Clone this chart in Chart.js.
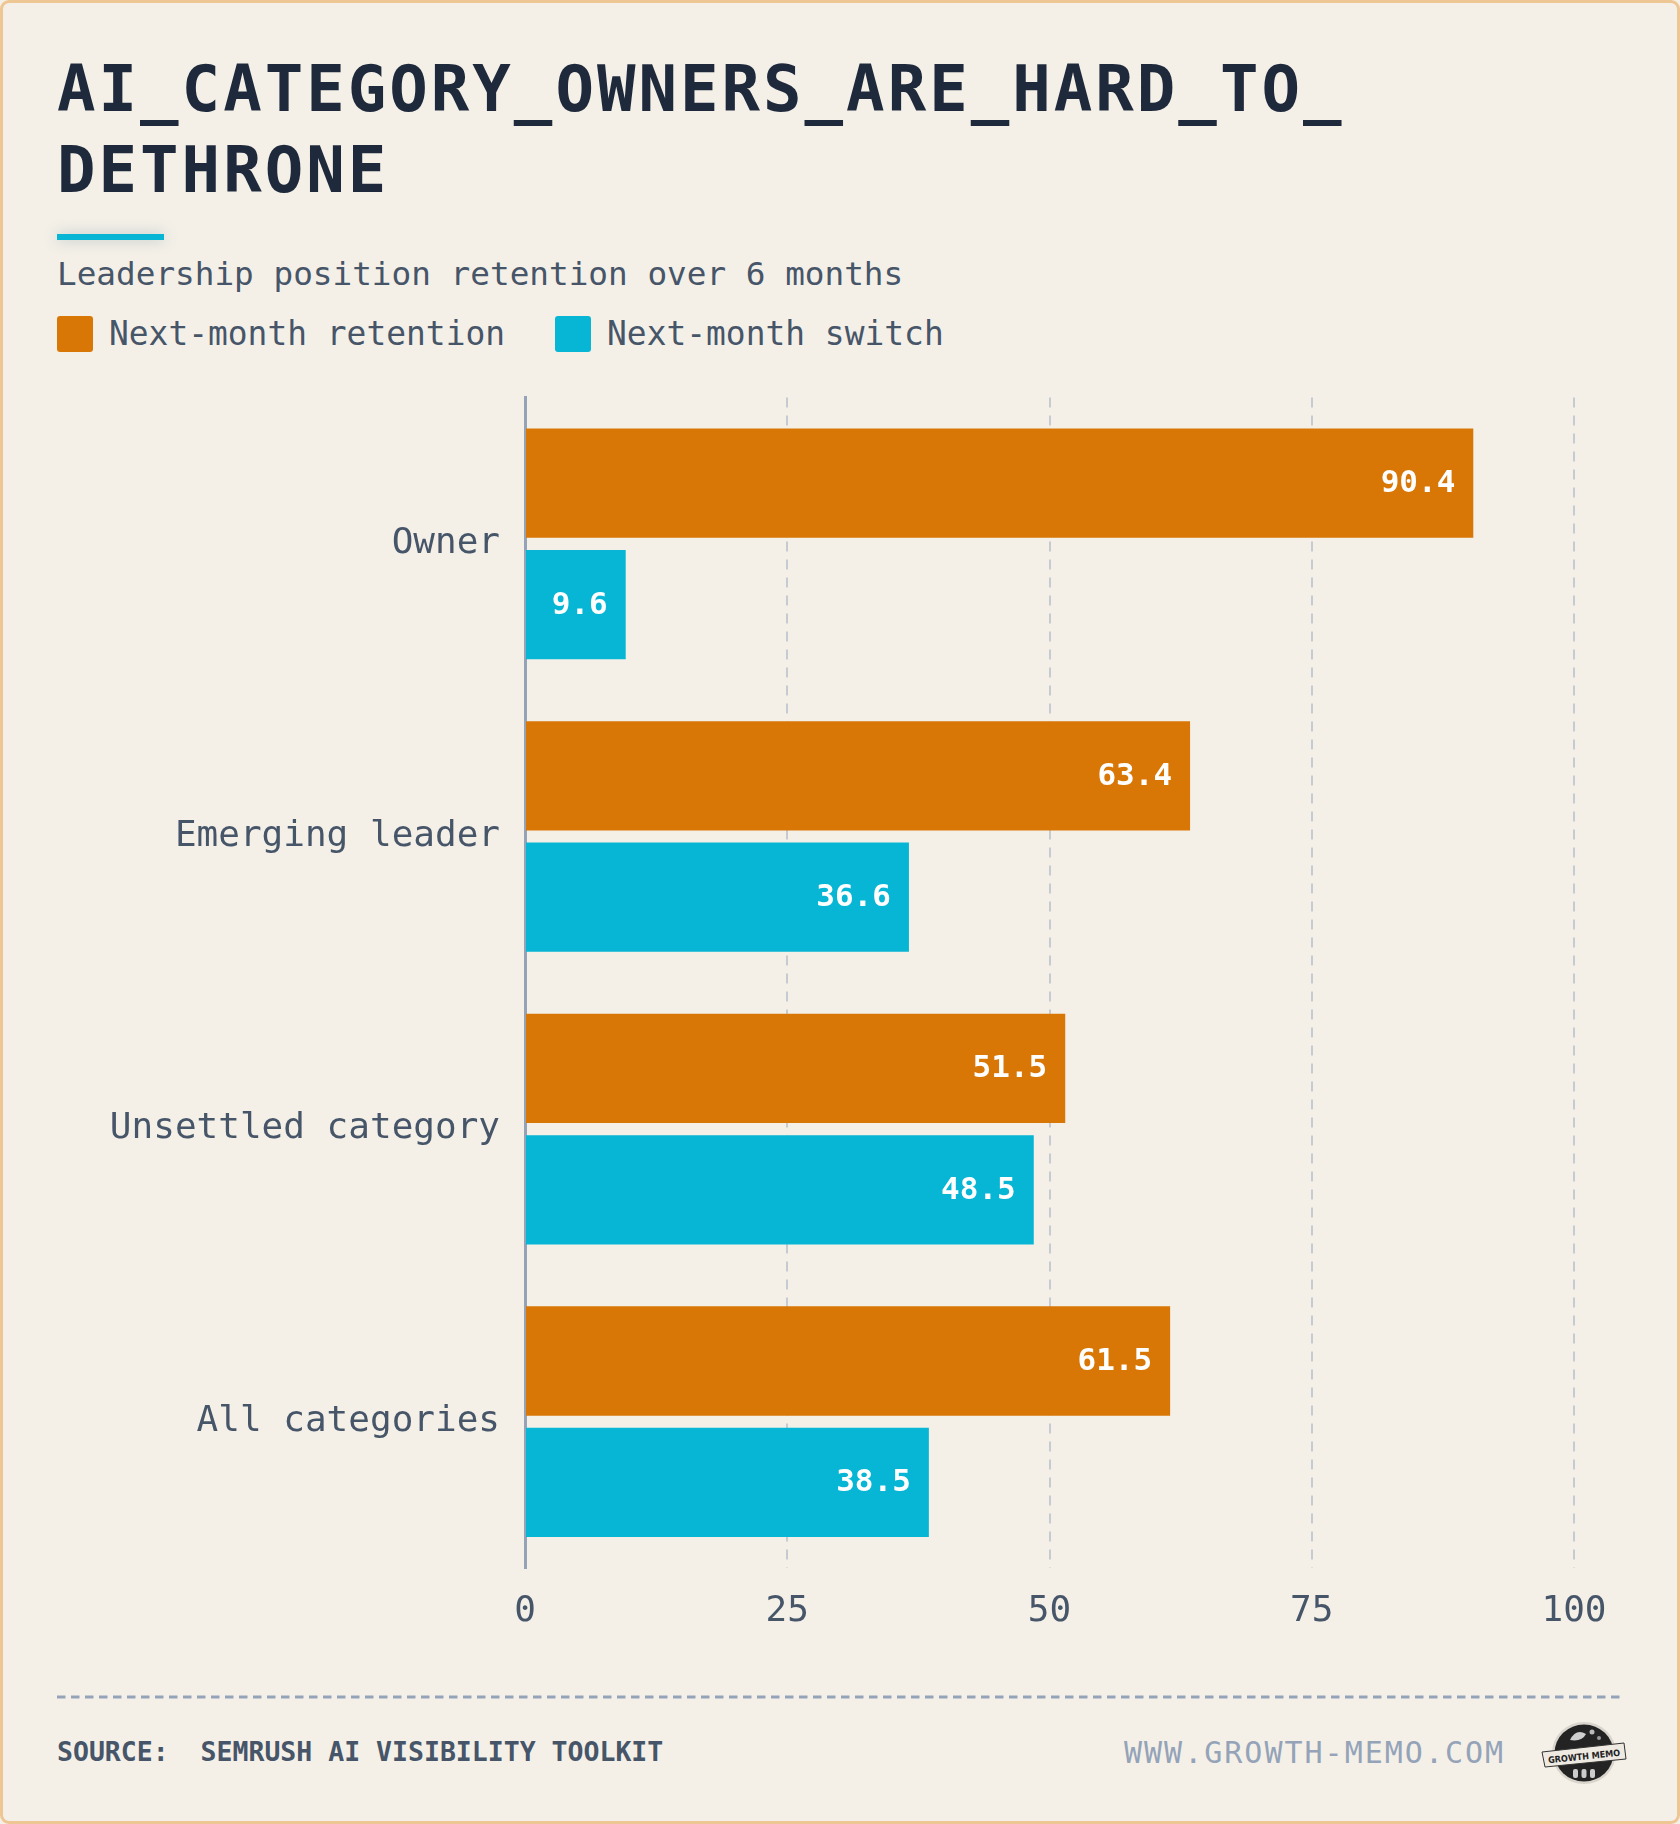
<!DOCTYPE html>
<html lang="en">
  <head>
    <meta charset="UTF-8" />
    <title>AI category owners are hard to dethrone</title>
    <style>
      html, body { margin: 0; padding: 0; }
      body {
        position: relative;
        width: 1680px;
        height: 1824px;
        background: #f4f0e8;
        font-family: "DejaVu Sans Mono", monospace;
        overflow: hidden;
      }
      .frame {
        position: absolute; left: 0; top: 0;
        width: 1680px; height: 1824px;
        box-sizing: border-box;
        border: 3px solid #eec693;
        border-radius: 9px;
        pointer-events: none;
      }
      .title {
        position: absolute; left: 57px; top: 49px;
        font-size: 64px; line-height: 81px; font-weight: bold;
        letter-spacing: 3px; color: #1e293b; margin: 0;
      }
      .accent {
        position: absolute; left: 57px; top: 234px;
        width: 107px; height: 6px; background: #06b6d4;
        box-shadow: 0 0 14px rgba(60, 110, 120, 0.35);
      }
      .subtitle {
        position: absolute; left: 57px; top: 254px;
        font-size: 32.7px; line-height: 40px; color: #475569;
      }
      .legend {
        position: absolute; left: 57px; top: 314px;
        display: flex; align-items: center;
        font-size: 32.9px; line-height: 40px; color: #475569;
      }
      .legend .item { display: flex; align-items: center; margin-right: 50px; }
      .legend .sw { width: 36px; height: 36px; border-radius: 3px; margin-right: 16px; }
      #wrap {
        position: absolute; left: 0; top: 351px;
        width: 1680px; height: 1309px;
      }
      .rule { position: absolute; left: 57px; top: 1694px; }
      .source {
        position: absolute; left: 57px; top: 1738px;
        font-size: 26.5px; line-height: 28px; font-weight: bold; color: #475569;
        white-space: pre;
      }
      .url {
        position: absolute; left: 1124px; top: 1737px;
        font-size: 30px; line-height: 32px; letter-spacing: 2px; color: #94a3b8;
      }
      .logo { position: absolute; left: 1536px; top: 1716px; }
    </style>
  </head>
  <body>
    <div class="frame"></div>
    <div class="title">AI_CATEGORY_OWNERS_ARE_HARD_TO_<br />DETHRONE</div>
    <div class="accent"></div>
    <div class="subtitle">Leadership position retention over 6 months</div>
    <div class="legend" id="legend"></div>

    <div id="wrap"><canvas id="myChart"></canvas></div>

    <svg class="rule" width="1570" height="6">
      <line x1="0" y1="3" x2="1566" y2="3" stroke="#94a3b8" stroke-width="3" stroke-dasharray="8.5 5.5" />
    </svg>
    <div class="source">SOURCE:  SEMRUSH AI VISIBILITY TOOLKIT</div>
    <div class="url">WWW.GROWTH-MEMO.COM</div>
    <svg class="logo" width="92" height="74" viewBox="0 0 92 74">
      <ellipse cx="48" cy="37" rx="32" ry="31" fill="#d9d4cc" />
      <ellipse cx="48" cy="37" rx="29.5" ry="28.5" fill="#232323" />
      <path d="M34 24 q6 -12 16 -6 q-4 8 -16 6 z" fill="#cfcfcf" />
      <circle cx="56" cy="16" r="2.5" fill="#bbb" />
      <circle cx="63" cy="22" r="2" fill="#999" />
      <path d="M6 36 L88 27 L90 43 L9 51 Z" fill="#eeeae2" stroke="#333" stroke-width="1" />
      <text x="48" y="43.5" font-family="DejaVu Sans Condensed, DejaVu Sans" font-size="9" font-weight="bold" text-anchor="middle" fill="#222" transform="rotate(-6 48 39)">GROWTH MEMO</text>
      <rect x="37" y="53" width="5" height="9" rx="2" fill="#ccc" />
      <rect x="45.5" y="53" width="5" height="9" rx="2" fill="#ccc" />
      <rect x="54" y="53" width="5" height="9" rx="2" fill="#ccc" />
    </svg>

    <script src="https://cdn.jsdelivr.net/npm/chart.js@4.4.1/dist/chart.umd.min.js"></script>
    <script>
      const categories = ["Owner", "Emerging leader", "Unsettled category", "All categories"];
      const seriesNames = ["Next-month retention", "Next-month switch"];
      const retention = [90.4, 63.4, 51.5, 61.5];
      const switched = [9.6, 36.6, 48.5, 38.5];
      const xTicks = [0, 25, 50, 75, 100];

      const orange = "#d97706";
      const cyan = "#06b6d4";
      const fontName = "'DejaVu Sans Mono', monospace";

      // html legend, built from the series names
      const legendEl = document.getElementById("legend");
      [orange, cyan].forEach((col, i) => {
        const item = document.createElement("div");
        item.className = "item";
        item.innerHTML = `<span class="sw" style="background:${col}"></span><span>${seriesNames[i]}</span>`;
        legendEl.appendChild(item);
      });

      // white value labels at the end of each bar
      const valueLabels = {
        id: "valueLabels",
        afterDatasetsDraw(chart) {
          const ctx = chart.ctx;
          ctx.save();
          ctx.font = "bold 31px " + fontName;
          ctx.fillStyle = "#ffffff";
          ctx.textAlign = "right";
          ctx.textBaseline = "middle";
          chart.data.datasets.forEach((ds, i) => {
            chart.getDatasetMeta(i).data.forEach((bar, j) => {
              ctx.fillText(ds.data[j].toFixed(1), bar.x - 18, bar.y + 1);
            });
          });
          ctx.restore();
        }
      };

      const ctx = document.getElementById("myChart").getContext("2d");
      const chart = new Chart(ctx, {
        type: "bar",
        data: {
          labels: categories,
          datasets: [
            { label: seriesNames[0], data: retention, backgroundColor: orange },
            { label: seriesNames[1], data: switched, backgroundColor: cyan }
          ]
        },
        options: {
          indexAxis: "y",
          responsive: true,
          maintainAspectRatio: false,
          animation: false,
          categoryPercentage: 0.83,
          barPercentage: 0.9,
          layout: { padding: { top: 8, right: 106, bottom: 0, left: 0 } },
          plugins: { legend: { display: false }, tooltip: { enabled: false } },
          scales: {
            x: {
              min: 0,
              max: 100,
              afterBuildTicks: scale => {
                scale.ticks = xTicks.map(v => ({ value: v }));
              },
              afterFit: scale => {
                scale.height = 92;
              },
              ticks: {
                color: "#475569",
                font: { family: fontName, size: 36 },
                padding: 22
              },
              grid: {
                drawTicks: false,
                lineWidth: 2,
                color: c => (c.tick && c.tick.value === 0 ? "rgba(0,0,0,0)" : "#c6cbd2")
              },
              border: { display: false, dash: [10, 8] }
            },
            y: {
              afterFit: scale => {
                scale.width = 525;
              },
              ticks: {
                color: "#475569",
                font: { family: fontName, size: 36 },
                padding: 25
              },
              grid: { display: false, drawTicks: false },
              border: { display: true, color: "#94a3b8", width: 3 }
            }
          }
        },
        plugins: [valueLabels]
      });
    </script>
  </body>
</html>
